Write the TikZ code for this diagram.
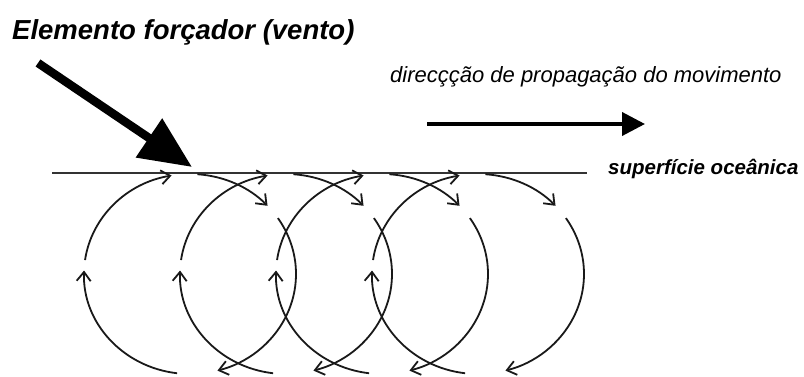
\documentclass[tikz,border=0pt]{standalone}
\usepackage{fontspec}
\setmainfont{Liberation Sans}
\usetikzlibrary{arrows.meta}
\begin{document}
\begin{tikzpicture}[x=1pt,y=1pt,
  orbit/.style={line width=1.8pt, draw=black!90, -{Straight Barb[length=9pt,width=14pt]}},
  surf/.style={line width=2pt, draw=black!80},
  windarrow/.style={line width=8.5pt, -{Triangle[length=52pt,width=45pt]}},
  proparrow/.style={line width=4pt, -{Triangle[length=23pt,width=23pt]}},
  lbl/.style={anchor=base west, inner sep=0pt}
]
\useasboundingbox (0,0) rectangle (804,376);

% texts
\node[lbl, font=\fontsize{27.5}{30}\selectfont\bfseries\itshape] (title) at (12,337) {Elemento forçador (vento)};
\node[lbl, font=\fontsize{22}{24}\selectfont\itshape] (dir) at (390,294) {direcçção de propagação do movimento};
\node[lbl, font=\fontsize{20.5}{23}\selectfont\bfseries\itshape] (surface) at (608,202) {superfície oceânica};

% wind arrow
\coordinate (w0) at (38,313);
\coordinate (w1) at (192,209);
\draw[windarrow] (w0) -- (w1);

% propagation arrow
\coordinate (p0) at (427,252);
\coordinate (p1) at (645,252);
\draw[proparrow] (p0) -- (p1);

% ocean surface
\coordinate (s0) at (52,203);
\coordinate (s1) at (587,203);
\draw[surf] (s0) -- (s1);

% orbital circles
\foreach \cx in {190,286,382,478} {
  \draw[orbit] (\cx,102) ++(172:106 and 100) arc[start angle=172, end angle=100, x radius=106, y radius=100];
  \draw[orbit] (\cx,102) ++(86:106 and 100) arc[start angle=86, end angle=43, x radius=106, y radius=100];
  \draw[orbit] (\cx,102) ++(34:106 and 100) arc[start angle=34, end angle=-75, x radius=106, y radius=100];
  \draw[orbit] (\cx,102) ++(-97:106 and 100) arc[start angle=-97, end angle=-182, x radius=106, y radius=100];
}
\end{tikzpicture}
\end{document}
